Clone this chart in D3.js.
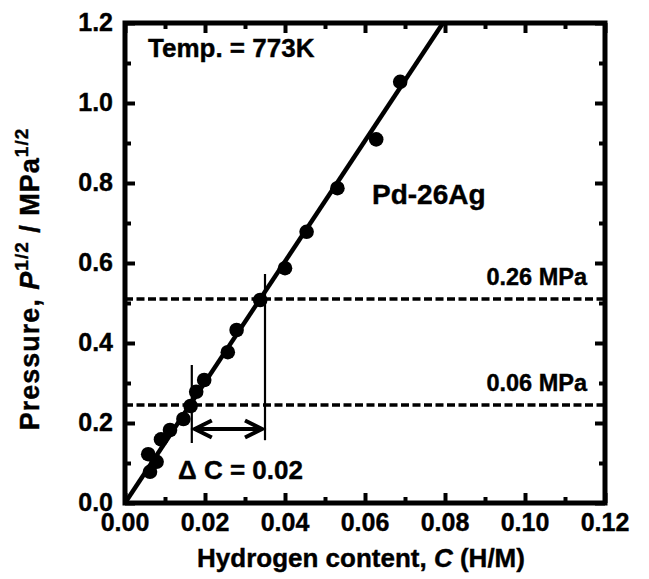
<!DOCTYPE html>
<html>
<head>
<meta charset="utf-8">
<script src="https://cdn.jsdelivr.net/npm/d3@7"></script>
<style>
  body { margin: 0; background: white; }
  text { font-family: "Liberation Sans", Arial, sans-serif; font-weight: bold; fill: black;
         stroke: black; stroke-width: 0.4px; }
</style>
</head>
<body>
<svg id="plot"></svg>
<script>
// measured points, hydrogen content C vs sqrt(P)
const contentC = [0.0058, 0.00625, 0.0079, 0.0090, 0.01125, 0.0146, 0.0164, 0.0178, 0.0198,
                  0.0257, 0.0279, 0.0338, 0.0400, 0.0454, 0.0531, 0.0628, 0.0688];
const sqrtP = [0.122, 0.078, 0.103, 0.159, 0.1825, 0.210, 0.2425, 0.278, 0.3075,
               0.377, 0.4325, 0.5075, 0.587, 0.678, 0.787, 0.909, 1.053];
// fitted straight line end points
const fitC = [0, 0.0795];
const fitP = [0, 1.2];
// dashed pressure levels
const levelP = [0.51, 0.245];
const levelLabels = ["0.26 MPa", "0.06 MPa"];
// vertical markers and the delta C arrow
const markC = [0.0167, 0.035];
const markLow = [0.15, 0.157];
const markHigh = [0.345, 0.5725];
const arrowP = 0.185;
const xTicks = [0, 0.02, 0.04, 0.06, 0.08, 0.10, 0.12];
const yTicks = [0, 0.2, 0.4, 0.6, 0.8, 1.0, 1.2];
const xMinor = [0.01, 0.03, 0.05, 0.07, 0.09, 0.11];
const yMinor = [0.1, 0.3, 0.5, 0.7, 0.9, 1.1];

let width = 649, height = 579;
let margin = { top: 23, bottom: 76, left: 125, right: 44 };

let svg = d3.select('#plot')
  .attr('width', width)
  .attr('height', height)
  .style('background', 'white');

let xScale = d3.scaleLinear().domain([0, 0.12]).range([margin.left, width - margin.right]);
let yScale = d3.scaleLinear().domain([0, 1.2]).range([height - margin.bottom, margin.top]);

const pBottom = height - margin.bottom, pTop = margin.top, pLeft = margin.left, pRight = width - margin.right;

// ticks on all four sides, pointing inward
function addAxis(axis, tx, ty) {
  let g = svg.append('g').attr('transform', `translate(${tx},${ty})`).call(axis);
  g.select('.domain').remove();
  g.selectAll('line').attr('stroke', 'black').attr('stroke-width', 4);
  g.selectAll('text').remove();
  return g;
}

addAxis(d3.axisTop(xScale).tickValues(xTicks).tickSize(10), 0, pBottom);
addAxis(d3.axisTop(xScale).tickValues(xMinor).tickSize(6), 0, pBottom);
addAxis(d3.axisBottom(xScale).tickValues(xTicks).tickSize(10), 0, pTop);
addAxis(d3.axisBottom(xScale).tickValues(xMinor).tickSize(6), 0, pTop);
addAxis(d3.axisRight(yScale).tickValues(yTicks).tickSize(10), pLeft, 0);
addAxis(d3.axisRight(yScale).tickValues(yMinor).tickSize(6), pLeft, 0);
addAxis(d3.axisLeft(yScale).tickValues(yTicks).tickSize(10), pRight, 0);
addAxis(d3.axisLeft(yScale).tickValues(yMinor).tickSize(6), pRight, 0);

// tick labels
svg.selectAll('.xlab').data(xTicks).enter().append('text')
  .attr('x', d => xScale(d)).attr('y', pBottom + 28)
  .attr('text-anchor', 'middle').style('font-size', '25px')
  .text(d => d.toFixed(2));
svg.selectAll('.ylab').data(yTicks).enter().append('text')
  .attr('x', pLeft - 12).attr('y', d => yScale(d) + 8)
  .attr('text-anchor', 'end').style('font-size', '25px')
  .text(d => d.toFixed(1));

// dashed levels
svg.selectAll('.level').data(levelP).enter().append('line')
  .attr('x1', xScale(0)).attr('x2', xScale(0.12))
  .attr('y1', d => yScale(d)).attr('y2', d => yScale(d))
  .attr('stroke', 'black').attr('stroke-width', 3.5).attr('stroke-dasharray', '8,3.5');
svg.selectAll('.levlab').data(levelLabels).enter().append('text')
  .attr('x', 587).attr('y', (d, i) => yScale(levelP[i]) - 14)
  .attr('text-anchor', 'end').style('font-size', '23.5px')
  .text(d => d);

// vertical marks
svg.selectAll('.mark').data(markC).enter().append('line')
  .attr('x1', d => xScale(d)).attr('x2', d => xScale(d))
  .attr('y1', (d, i) => yScale(markLow[i])).attr('y2', (d, i) => yScale(markHigh[i]))
  .attr('stroke', 'black').attr('stroke-width', 2.2);

// double arrow
let ax1 = xScale(markC[0]) + 3, ax2 = xScale(markC[1]) - 3, ay = yScale(arrowP);
svg.append('line').attr('x1', ax1).attr('x2', ax2).attr('y1', ay).attr('y2', ay)
  .attr('stroke', 'black').attr('stroke-width', 4);
svg.append('path')
  .attr('d', `M${ax1 + 17},${ay - 8.5}L${ax1},${ay}L${ax1 + 17},${ay + 8.5}M${ax2 - 17},${ay - 8.5}L${ax2},${ay}L${ax2 - 17},${ay + 8.5}`)
  .attr('fill', 'none').attr('stroke', 'black').attr('stroke-width', 4);

// fitted line
svg.append('line')
  .attr('x1', xScale(fitC[0])).attr('y1', yScale(fitP[0]))
  .attr('x2', xScale(fitC[1])).attr('y2', yScale(fitP[1]))
  .attr('stroke', 'black').attr('stroke-width', 4.5);

// data points
svg.selectAll('circle').data(contentC).enter().append('circle')
  .attr('cx', d => xScale(d)).attr('cy', (d, i) => yScale(sqrtP[i]))
  .attr('r', 7.3).attr('fill', 'black');

// frame
svg.append('rect').attr('x', pLeft).attr('y', pTop)
  .attr('width', pRight - pLeft).attr('height', pBottom - pTop)
  .attr('fill', 'none').attr('stroke', 'black').attr('stroke-width', 5);

// annotations
svg.append('text').attr('x', 148).attr('y', 57).style('font-size', '26px').text('Temp. = 773K');
svg.append('text').attr('x', 372).attr('y', 204).style('font-size', '28px').text('Pd-26Ag');
svg.append('text').attr('x', 178).attr('y', 479).style('font-size', '26px').text('Δ C = 0.02');

// axis titles
let xt = svg.append('text').attr('x', 361).attr('y', 567)
  .attr('text-anchor', 'middle').style('font-size', '26px');
xt.append('tspan').text('Hydrogen content, ');
xt.append('tspan').style('font-style', 'italic').text('C');
xt.append('tspan').text(' (H/M)');

let yt = svg.append('text').attr('transform', 'translate(39,279) rotate(-90)')
  .attr('text-anchor', 'middle').style('font-size', '27px').style('letter-spacing', '1px');
yt.append('tspan').text('Pressure, ');
yt.append('tspan').style('font-style', 'italic').text('P');
yt.append('tspan').attr('dy', -11).style('font-size', '19px').text('1/2');
yt.append('tspan').attr('dy', 11).text(' / MPa');
yt.append('tspan').attr('dy', -11).style('font-size', '19px').text('1/2');
</script>
</body>
</html>
